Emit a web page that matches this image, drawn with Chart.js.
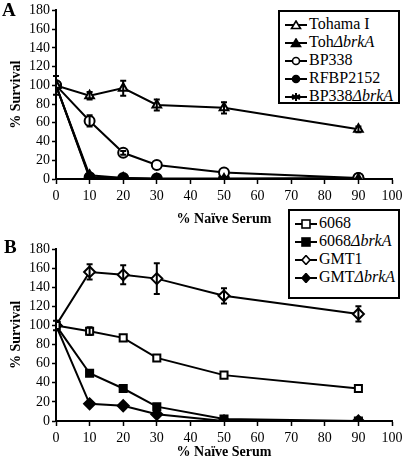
<!DOCTYPE html>
<html>
<head>
<meta charset="utf-8">
<script src="https://cdn.jsdelivr.net/npm/chart.js@4"></script>
<style>
  body { margin: 0; background: #fff; }
  #wrap { position: relative; width: 409px; height: 465px; font-family: "Liberation Serif", "Times New Roman", "DejaVu Serif", serif; }
  canvas { position: absolute; left: 0; }
  .panel { position: absolute; font-weight: bold; font-size: 19px; }
  .legend { position: absolute; border: 2px solid #000; background: #fff; font-size: 16px; box-sizing: border-box; padding: 3px 0 0 5px; }
  .legend div { height: 18px; line-height: 18px; white-space: nowrap; }
  .legend svg { vertical-align: middle; margin-right: 2px; }
</style>
</head>
<body>
<div id="wrap">
  <canvas id="chartA" width="409" height="230" style="top:0"></canvas>
  <canvas id="chartB" width="409" height="235" style="top:230px"></canvas>
  <div class="panel" style="left:2px; top:-1px">A</div>
  <div class="panel" style="left:4px; top:236px">B</div>
  <div class="legend" id="legendA" style="left:278px; top:10px; width:122px; height:94px"></div>
  <div class="legend" id="legendB" style="left:288px; top:209px; width:112px; height:90px"></div>
</div>
<script>
// x values (% naive serum)
const serum = [0, 10, 20, 30, 50, 90];

// Panel A
const tohama = [100, 89, 97, 79, 76, 53];
const tohamaErr = [10, 4, 8, 6, 6, 3];
const tohBrkA = [100, 4, 1, 0, 0, 0];
const bp338 = [100, 62, 28, 15, 7, 1];
const bp338Err = [0, 6, 2, 0, 0, 0];
const rfbp2152 = [100, 2, 1, 0.5, 0.5, 1];
const bp338BrkA = [100, 1, 0, 0, 0, 0];

// Panel B
const s6068 = [100, 94, 87, 66, 48, 34];
const s6068Err = [0, 4, 0, 0, 0, 0];
const s6068BrkA = [100, 50, 34, 15, 2, 0];
const gmt1 = [100, 156, 153, 149, 131, 112];
const gmt1Err = [5, 8, 10, 16, 8, 8];
const gmtBrkA = [100, 18, 16, 7, 0, 0];

const xTicks = [0, 10, 20, 30, 40, 50, 60, 70, 80, 90, 100];
const yTicks = [0, 20, 40, 60, 80, 100, 120, 140, 160, 180];

const FAMILY = '"Liberation Serif", "Times New Roman", "DejaVu Serif", serif';

function pts(ys) {
  return serum.map((x, i) => ({ x: x, y: ys[i] }));
}

function series(label, ys, style, filled, errs, legendHtml) {
  return {
    label: label,
    legendHtml: legendHtml,
    data: pts(ys),
    errors: errs || null,
    borderColor: '#000',
    borderWidth: 2,
    backgroundColor: filled ? '#000' : '#fff',
    pointStyle: style,
    pointRadius: style === 'rectRot' ? 5.5 : 5,
    pointBorderWidth: 2,
    pointBorderColor: '#000',
    pointBackgroundColor: filled ? '#000' : '#fff',
    tension: 0
  };
}

// vertical error bars drawn through the chart's scales
const errorBars = {
  id: 'errorBars',
  afterDatasetsDraw(chart) {
    const ctx = chart.ctx;
    const xs = chart.scales.x, ys = chart.scales.y;
    ctx.save();
    ctx.strokeStyle = '#000';
    ctx.lineWidth = 2;
    chart.data.datasets.forEach(ds => {
      if (!ds.errors) return;
      ds.data.forEach((p, i) => {
        const e = ds.errors[i];
        if (!e) return;
        const px = xs.getPixelForValue(p.x);
        const top = ys.getPixelForValue(p.y + e);
        const bot = ys.getPixelForValue(p.y - e);
        ctx.beginPath();
        ctx.moveTo(px, top); ctx.lineTo(px, bot);
        ctx.moveTo(px - 3, top); ctx.lineTo(px + 3, top);
        ctx.moveTo(px - 3, bot); ctx.lineTo(px + 3, bot);
        ctx.stroke();
      });
    });
    ctx.restore();
  }
};

function makeChart(id, datasets, pad, xHeight, titlePad) {
  const tickFont = { family: FAMILY, size: 14 };
  const titleFont = { family: FAMILY, size: 14, weight: 'bold' };
  return new Chart(document.getElementById(id), {
    type: 'line',
    data: { datasets: datasets },
    options: {
      responsive: false,
      animation: false,
      layout: { padding: pad },
      plugins: { legend: { display: false }, tooltip: { enabled: false } },
      scales: {
        x: {
          type: 'linear', min: 0, max: 100,
          afterBuildTicks: s => { s.ticks = xTicks.map(v => ({ value: v })); },
          afterFit: s => { s.height = xHeight; },
          border: { color: '#000', width: 2 },
          grid: { drawOnChartArea: false, color: '#000', tickLength: 5, tickWidth: 1.5 },
          ticks: { color: '#000', font: tickFont, padding: 4, maxRotation: 0, autoSkip: false },
          title: { display: true, text: '% Naïve Serum', color: '#000', font: titleFont, padding: titlePad }
        },
        y: {
          min: 0, max: 180,
          afterBuildTicks: s => { s.ticks = yTicks.map(v => ({ value: v })); },
          afterFit: s => { s.width = 54; },
          border: { color: '#000', width: 2 },
          grid: { drawOnChartArea: false, color: '#000', tickLength: 4, tickWidth: 1.5 },
          ticks: { color: '#000', font: tickFont, padding: 2, autoSkip: false },
          title: { display: true, text: '% Survival', color: '#000', font: titleFont, padding: { top: 6, bottom: 0 } }
        }
      }
    },
    plugins: [errorBars]
  });
}

function markerSvg(style, filled) {
  const f = filled ? '#000' : '#fff';
  let m = '';
  if (style === 'triangle') m = `<polygon points="11,1 15.5,8.5 6.5,8.5" fill="${f}" stroke="#000" stroke-width="1.6"/>`;
  else if (style === 'circle') m = `<circle cx="11" cy="5" r="3.5" fill="${f}" stroke="#000" stroke-width="1.6"/>`;
  else if (style === 'rect') m = `<rect x="7" y="1" width="8" height="8" fill="${f}" stroke="#000" stroke-width="1.6"/>`;
  else if (style === 'rectRot') m = `<polygon points="11,0.5 15,5 11,9.5 7,5" fill="${f}" stroke="#000" stroke-width="1.6"/>`;
  else m = `<path d="M11,1 L11,9 M7,3 L15,7 M7,7 L15,3" stroke="#000" stroke-width="2"/>`;
  return `<svg width="22" height="10"><line x1="0" y1="5" x2="22" y2="5" stroke="#000" stroke-width="2"/>${m}</svg>`;
}

function fillLegend(id, datasets) {
  const el = document.getElementById(id);
  el.innerHTML = datasets.map(ds =>
    `<div>${markerSvg(ds.pointStyle, ds.pointBackgroundColor === '#000')}${ds.legendHtml}</div>`
  ).join('');
}

const dsA = [
  series('Tohama I', tohama, 'triangle', false, tohamaErr, 'Tohama I'),
  series('TohΔbrkA', tohBrkA, 'triangle', true, null, 'Toh<i>ΔbrkA</i>'),
  series('BP338', bp338, 'circle', false, bp338Err, 'BP338'),
  series('RFBP2152', rfbp2152, 'circle', true, null, 'RFBP2152'),
  series('BP338ΔbrkA', bp338BrkA, 'star', true, null, 'BP338<i>ΔbrkA</i>')
];
const dsB = [
  series('6068', s6068, 'rect', false, s6068Err, '6068'),
  series('6068ΔbrkA', s6068BrkA, 'rect', true, null, '6068<i>ΔbrkA</i>'),
  series('GMT1', gmt1, 'rectRot', false, gmt1Err, 'GMT1'),
  series('GMTΔbrkA', gmtBrkA, 'rectRot', true, null, 'GMT<i>ΔbrkA</i>')
];

makeChart('chartA', dsA, { left: 2, right: 17, top: 3, bottom: 2 }, 49, { top: 8, bottom: 0 });
makeChart('chartB', dsB, { left: 2, right: 17, top: 19, bottom: 4 }, 40, { top: 0, bottom: 0 });
fillLegend('legendA', dsA);
fillLegend('legendB', dsB);
</script>
</body>
</html>
